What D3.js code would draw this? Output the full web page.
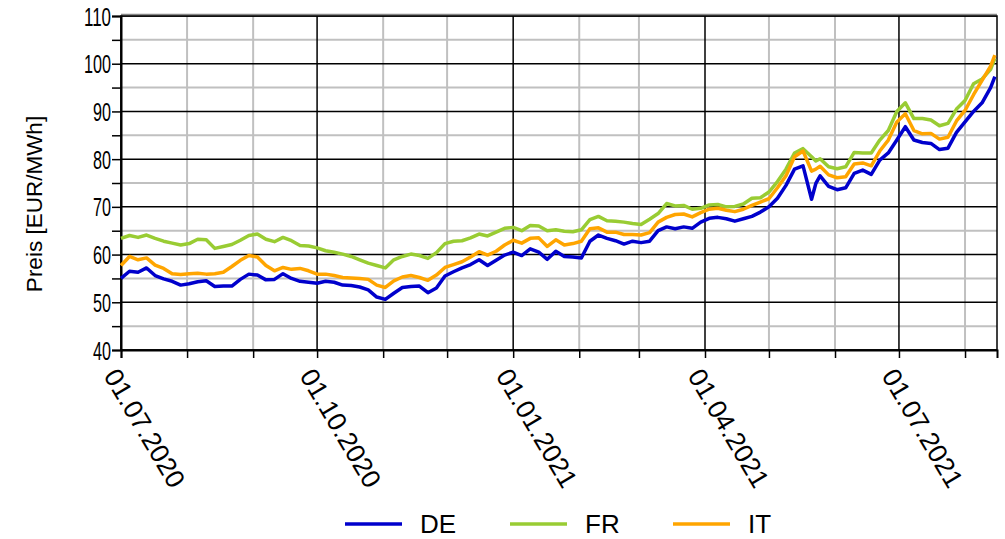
<!DOCTYPE html>
<html>
<head>
<meta charset="utf-8">
<script src="https://cdn.jsdelivr.net/npm/d3@7"></script>
<style>
  body { margin: 0; background: #fff; }
  text { font-family: "Liberation Sans", Arial, sans-serif; fill: #000; }
</style>
</head>
<body>
<script>
const dates = [
  "2020-07-01","2020-07-05","2020-07-09","2020-07-13","2020-07-17","2020-07-21","2020-07-25","2020-07-29",
  "2020-08-02","2020-08-06","2020-08-10","2020-08-14","2020-08-18","2020-08-22","2020-08-26","2020-08-30",
  "2020-09-03","2020-09-07","2020-09-11","2020-09-15","2020-09-19","2020-09-23","2020-09-27",
  "2020-10-01","2020-10-05","2020-10-09","2020-10-13","2020-10-17","2020-10-21","2020-10-25","2020-10-29",
  "2020-11-02","2020-11-06","2020-11-10","2020-11-14","2020-11-18","2020-11-22","2020-11-26","2020-11-30",
  "2020-12-04","2020-12-08","2020-12-12","2020-12-16","2020-12-20","2020-12-24","2020-12-28",
  "2021-01-01","2021-01-05","2021-01-09","2021-01-13","2021-01-17","2021-01-21","2021-01-25","2021-01-29",
  "2021-02-02","2021-02-06","2021-02-10","2021-02-14","2021-02-18","2021-02-22","2021-02-26",
  "2021-03-02","2021-03-06","2021-03-10","2021-03-14","2021-03-18","2021-03-22","2021-03-26","2021-03-30",
  "2021-04-03","2021-04-07","2021-04-11","2021-04-15","2021-04-19","2021-04-23","2021-04-27",
  "2021-05-01","2021-05-05","2021-05-09","2021-05-13","2021-05-17","2021-05-21","2021-05-23","2021-05-25","2021-05-29",
  "2021-06-02","2021-06-06","2021-06-10","2021-06-14","2021-06-18","2021-06-22","2021-06-26","2021-06-30",
  "2021-07-04","2021-07-08","2021-07-12","2021-07-16","2021-07-20","2021-07-24","2021-07-28",
  "2021-08-01","2021-08-05","2021-08-09","2021-08-13","2021-08-15"
];

const deValues = [
  55.0,56.5,56.3,57.2,55.6,54.9,54.4,53.6,
  53.9,54.3,54.5,53.3,53.4,53.4,54.8,55.9,
  55.7,54.7,54.8,56.0,55.0,54.4,54.2,
  54.0,54.4,54.2,53.6,53.5,53.2,52.6,51.1,
  50.6,51.9,53.1,53.3,53.4,52.0,53.0,55.5,
  56.4,57.2,57.9,58.9,57.7,58.8,59.9,
  60.5,59.8,61.2,60.5,59.0,60.7,59.6,59.5,
  59.3,62.8,64.1,63.4,62.9,62.2,62.8,
  62.5,62.8,65.0,65.8,65.4,65.8,65.5,66.8,
  67.6,67.8,67.5,67.0,67.5,68.0,68.9,
  70.0,71.8,74.5,77.9,78.6,71.6,74.9,76.5,
  74.3,73.6,74.0,77.0,77.7,76.8,79.8,81.3,
  84.0,86.8,84.0,83.5,83.3,82.0,82.3,
  85.6,87.8,90.0,91.8,95.0,97.3
];

const frValues = [
  63.4,64.0,63.6,64.1,63.4,62.8,62.4,62.0,
  62.3,63.2,63.1,61.3,61.7,62.1,63.0,64.0,
  64.3,63.2,62.7,63.6,62.9,61.9,61.8,
  61.4,60.8,60.5,60.1,59.6,58.9,58.2,57.7,
  57.2,58.9,59.6,60.1,59.8,59.2,60.4,62.3,
  62.8,62.9,63.5,64.3,63.9,64.7,65.5,
  65.7,65.0,66.1,66.0,65.0,65.2,64.9,64.8,
  65.2,67.3,68.0,67.1,67.0,66.8,66.5,
  66.3,67.4,68.6,70.7,70.2,70.3,69.5,69.7,
  70.4,70.5,70.0,70.1,70.6,71.8,71.9,
  73.1,75.3,77.9,81.3,82.2,80.5,79.6,80.1,
  78.4,78.0,78.4,81.4,81.3,81.3,84.0,86.0,
  90.0,91.8,88.5,88.5,88.2,87.0,87.5,
  90.5,92.3,95.8,96.8,98.8,101.1
];

const itValues = [
  57.7,59.6,58.9,59.3,57.8,57.1,56.0,55.8,
  56.0,56.1,55.9,56.0,56.3,57.5,58.8,59.8,
  59.5,57.7,56.6,57.3,56.9,57.1,56.6,
  55.9,55.9,55.6,55.2,55.1,55.0,54.8,53.6,
  53.1,54.5,55.3,55.6,55.2,54.6,55.7,57.3,
  57.9,58.5,59.5,60.6,59.9,60.7,62.0,
  63.0,62.4,63.4,63.5,61.7,63.1,62.0,62.3,
  62.8,65.4,65.6,64.7,64.7,64.2,64.2,
  64.1,64.6,66.8,67.8,68.4,68.5,67.9,68.8,
  69.5,69.7,69.3,69.0,69.5,70.3,71.0,
  71.7,74.0,76.5,80.5,81.7,77.5,77.9,78.5,
  76.7,76.1,76.3,79.0,79.2,78.6,81.7,84.0,
  87.8,89.5,86.0,85.3,85.4,84.2,84.6,
  88.0,90.2,93.5,96.5,99.5,101.8
];

const seriesNames = ["DE", "FR", "IT"];
const seriesColors = ["#0000cc", "#99cc33", "#ffa500"];
const yTicks = [40, 50, 60, 70, 80, 90, 100, 110];
const xLabelDates = ["2020-07-01", "2020-10-01", "2021-01-01", "2021-04-01", "2021-07-01"];
const yLabel = "Preis [EUR/MWh]";

const width = 1005, height = 539;
const margin = {top: 16, right: 8, bottom: 189, left: 121};
const innerW = width - margin.left - margin.right;
const innerH = height - margin.top - margin.bottom;

const parse = d3.timeParse("%Y-%m-%d");
const fmt = d3.timeFormat("%d.%m.%Y");
const xDates = dates.map(parse);

const svg = d3.select("body").append("svg")
    .attr("width", width)
    .attr("height", height);

const g = svg.append("g")
    .attr("transform", `translate(${margin.left},${margin.top})`);

const x = d3.scaleTime()
    .domain([parse("2020-07-01"), parse("2021-08-16")])
    .range([0, innerW]);

const y = d3.scaleLinear()
    .domain([40, 110])
    .range([innerH, 0]);

// grid: minor (gray) first, then major (black)
const months = x.ticks(d3.timeMonth.every(1));
const quarters = months.filter(d => d.getMonth() % 3 === 0);
const minorY = d3.range(45, 110, 10);

g.append("g").selectAll("line")
    .data(minorY)
    .join("line")
    .attr("x1", 0).attr("x2", innerW)
    .attr("y1", d => y(d)).attr("y2", d => y(d))
    .attr("stroke", "#c0c0c0").attr("stroke-width", 2);

g.append("g").selectAll("line")
    .data(months.filter(d => d.getMonth() % 3 !== 0))
    .join("line")
    .attr("x1", d => x(d)).attr("x2", d => x(d))
    .attr("y1", 0).attr("y2", innerH)
    .attr("stroke", "#c0c0c0").attr("stroke-width", 2);

g.append("g").selectAll("line")
    .data(yTicks)
    .join("line")
    .attr("x1", 0).attr("x2", innerW)
    .attr("y1", d => y(d)).attr("y2", d => y(d))
    .attr("stroke", "#000").attr("stroke-width", 1.5);

g.append("g").selectAll("line")
    .data(quarters)
    .join("line")
    .attr("x1", d => x(d)).attr("x2", d => x(d))
    .attr("y1", 0).attr("y2", innerH)
    .attr("stroke", "#000").attr("stroke-width", 1.5);

// frame
g.append("rect")
    .attr("width", innerW).attr("height", innerH)
    .attr("fill", "none").attr("stroke", "#000").attr("stroke-width", 1.5);
g.append("line")
    .attr("x1", 0).attr("x2", innerW)
    .attr("y1", -1.5).attr("y2", -1.5)
    .attr("stroke", "#888").attr("stroke-width", 1.5);

// y axis, labels are narrow and tall in the reference
const yAxis = g.append("g")
    .call(d3.axisLeft(y).tickValues(d3.range(40, 111, 5)).tickSize(9).tickFormat(d => d % 10 === 0 ? d : ""));
yAxis.select(".domain").attr("stroke-width", 2);
yAxis.selectAll(".tick line").attr("stroke-width", 1.5);
yAxis.selectAll("text")
    .attr("font-size", 25)
    .attr("x", -10)
    .attr("dy", "0.36em")
    .attr("font-family", "Liberation Sans, Arial, sans-serif")
    .attr("lengthAdjust", "spacingAndGlyphs")
    .attr("textLength", function() { return this.textContent.length * 9; });

// x axis
const xAxis = g.append("g")
    .attr("transform", `translate(0,${innerH})`)
    .call(d3.axisBottom(x).tickValues(months).tickSize(8).tickFormat(""));
xAxis.select(".domain").attr("stroke-width", 2);
xAxis.selectAll(".tick line").attr("stroke-width", 1.5);

g.append("g").selectAll("text")
    .data(xLabelDates.map(parse))
    .join("text")
    .attr("transform", d => `translate(${x(d) - 10},${innerH + 21}) rotate(59.4)`)
    .attr("dy", "0.35em")
    .attr("font-size", 26.5)
    .text(d => fmt(d));

svg.append("text")
    .attr("transform", `translate(42,${margin.top + 188}) rotate(-90)`)
    .attr("text-anchor", "middle")
    .attr("font-size", 22.5)
    .text(yLabel);

// lines
const line = d3.line()
    .x((d, i) => x(xDates[i]))
    .y(d => y(d));

const allSeries = [deValues, frValues, itValues];
g.append("g").selectAll("path")
    .data(allSeries)
    .join("path")
    .attr("d", d => line(d))
    .attr("fill", "none")
    .attr("stroke", (d, i) => seriesColors[i])
    .attr("stroke-width", 3.5)
    .attr("stroke-linejoin", "round");

// legend
const legendX = [345, 510, 673];
const legend = svg.append("g").selectAll("g")
    .data(seriesNames)
    .join("g")
    .attr("transform", (d, i) => `translate(${legendX[i]},524)`);
legend.append("line")
    .attr("x1", 0).attr("x2", 57)
    .attr("stroke", (d, i) => seriesColors[i])
    .attr("stroke-width", 3.5);
legend.append("text")
    .attr("x", 75)
    .attr("dy", "0.36em")
    .attr("font-size", 26)
    .text(d => d);
</script>
</body>
</html>
